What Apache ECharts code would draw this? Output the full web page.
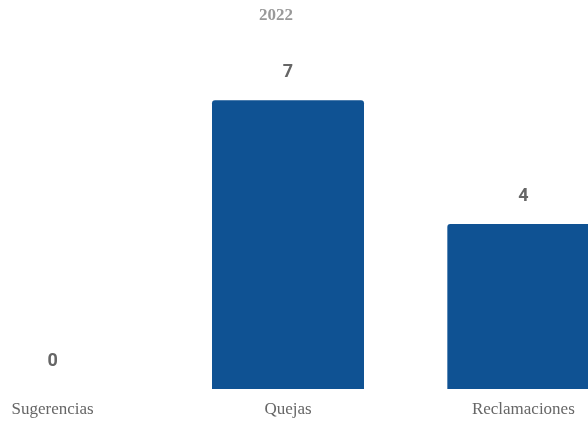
<!DOCTYPE html>
<html>
<head>
<meta charset="utf-8">
<script src="https://cdn.jsdelivr.net/npm/echarts@6/dist/echarts.min.js"></script>
<style>
html,body{margin:0;padding:0;background:#fff;}
#chart{width:588px;height:421px;}
</style>
</head>
<body>
<div id="chart"></div>
<script>
const titleText = "2022";
const categories = ["Sugerencias", "Quejas", "Reclamaciones"];
const values = [0, 7, 4];

const chart = echarts.init(document.getElementById('chart'), null, {renderer: 'canvas'});
chart.setOption({
  animation: false,
  backgroundColor: '#ffffff',
  title: {
    text: titleText,
    left: 254,
    top: 2,
    textStyle: {
      fontFamily: 'Liberation Serif, serif',
      fontSize: 17,
      fontWeight: 'bold',
      color: '#999999'
    }
  },
  grid: {
    left: -65,
    width: 706,
    top: 59,
    bottom: 32,
    containLabel: false,
    outerBoundsMode: 'none'
  },
  xAxis: {
    type: 'category',
    data: categories,
    axisLine: {show: false},
    axisTick: {show: false},
    axisLabel: {
      margin: 12,
      fontFamily: 'Liberation Serif, serif',
      fontSize: 17,
      color: '#666666'
    }
  },
  yAxis: {
    type: 'value',
    min: 0,
    max: 8,
    show: false,
    splitLine: {show: false}
  },
  series: [{
    type: 'bar',
    data: values,
    barWidth: 152,
    itemStyle: {
      color: '#0f5293',
      borderRadius: [3, 3, 0, 0]
    },
    label: {
      show: true,
      position: 'top',
      distance: 19,
      fontFamily: 'Roboto, Arial, sans-serif',
      fontSize: 18,
      fontWeight: 'bold',
      color: '#666666'
    }
  }]
});
</script>
</body>
</html>
